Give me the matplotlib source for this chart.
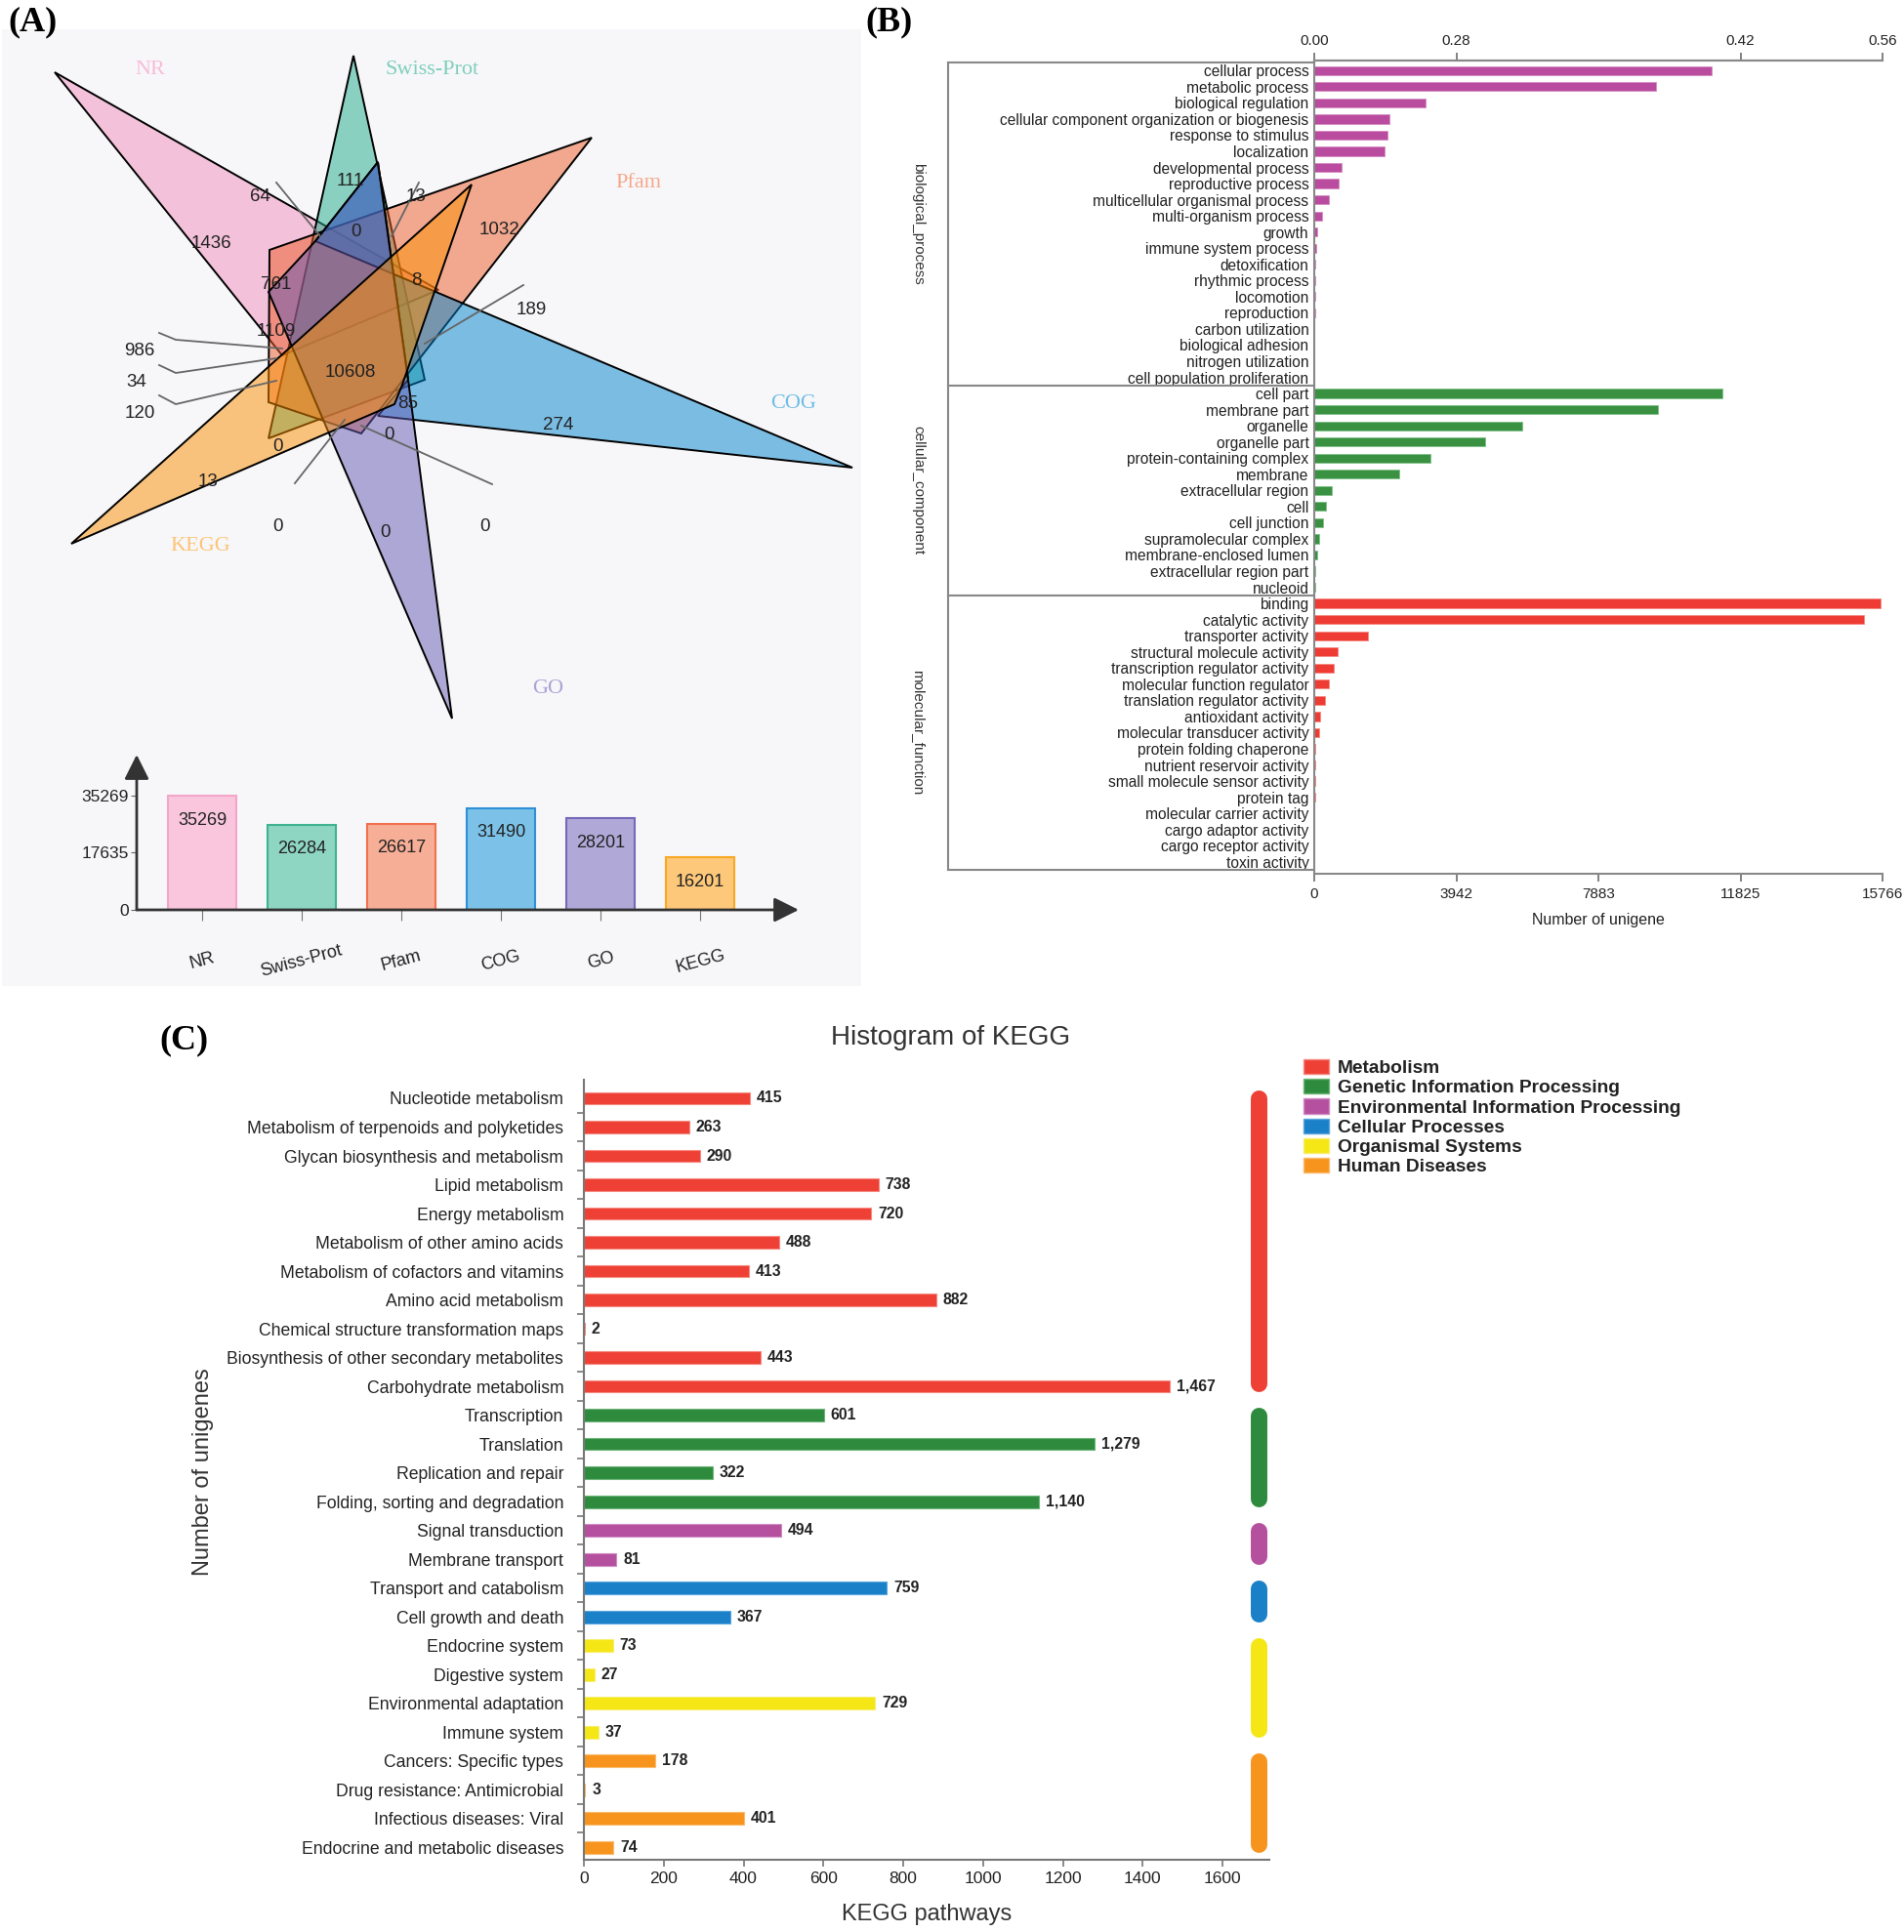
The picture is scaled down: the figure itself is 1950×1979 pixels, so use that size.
import numpy as np
import matplotlib
matplotlib.use('Agg')
import matplotlib.pyplot as plt
import matplotlib.transforms as mtransforms
from matplotlib.patches import Polygon, Rectangle, Patch
from matplotlib.colors import to_rgba

plt.rcParams['font.family'] = ['Liberation Sans', 'DejaVu Sans']
SERIF = ['Liberation Serif', 'DejaVu Serif']

# ---------------- data ----------------
venn_names = ['NR', 'Swiss-Prot', 'Pfam', 'COG', 'GO', 'KEGG']
venn_counts = [64, 111, 13, 0, 1032, 1436, 761, 8, 189, 1109, 986,
               10608, 34, 85, 120, 274, 0, 0, 13, 0, 0, 0]

db_names = ['NR', 'Swiss-Prot', 'Pfam', 'COG', 'GO', 'KEGG']
db_totals = [35269, 26284, 26617, 31490, 28201, 16201]
db_yticks = [0, 17635, 35269]

bp_terms = ['cellular process', 'metabolic process', 'biological regulation',
            'cellular component organization or biogenesis', 'response to stimulus',
            'localization', 'developmental process', 'reproductive process',
            'multicellular organismal process', 'multi-organism process', 'growth',
            'immune system process', 'detoxification', 'rhythmic process', 'locomotion',
            'reproduction', 'carbon utilization', 'biological adhesion',
            'nitrogen utilization', 'cell population proliferation']
bp_counts = [11030, 9480, 3090, 2090, 2030, 1950, 760, 665, 400, 220,
             75, 60, 30, 28, 20, 15, 10, 8, 5, 5]
cc_terms = ['cell part', 'membrane part', 'organelle', 'organelle part',
            'protein-containing complex', 'membrane', 'extracellular region', 'cell',
            'cell junction', 'supramolecular complex', 'membrane-enclosed lumen',
            'extracellular region part', 'nucleoid']
cc_counts = [11320, 9540, 5780, 4740, 3230, 2360, 490, 330, 240, 140, 90, 40, 15]
mf_terms = ['binding', 'catalytic activity', 'transporter activity',
            'structural molecule activity', 'transcription regulator activity',
            'molecular function regulator', 'translation regulator activity',
            'antioxidant activity', 'molecular transducer activity',
            'protein folding chaperone', 'nutrient reservoir activity',
            'small molecule sensor activity', 'protein tag', 'molecular carrier activity',
            'cargo adaptor activity', 'cargo receptor activity', 'toxin activity']
mf_counts = [15710, 15250, 1490, 650, 540, 410, 300, 160, 130, 30, 25, 20, 15, 10, 5, 3, 2]
go_groups = ['biological_process', 'cellular_component', 'molecular_function']
go_top_ticks = [0, 3942, 11825, 15766]
go_top_labels = ['0.00', '0.28', '0.42', '0.56']
go_bottom_ticks = [0, 3942, 7883, 11825, 15766]

kegg_pathways = ['Nucleotide metabolism', 'Metabolism of terpenoids and polyketides',
                 'Glycan biosynthesis and metabolism', 'Lipid metabolism',
                 'Energy metabolism', 'Metabolism of other amino acids',
                 'Metabolism of cofactors and vitamins', 'Amino acid metabolism',
                 'Chemical structure transformation maps',
                 'Biosynthesis of other secondary metabolites', 'Carbohydrate metabolism',
                 'Transcription', 'Translation', 'Replication and repair',
                 'Folding, sorting and degradation', 'Signal transduction',
                 'Membrane transport', 'Transport and catabolism', 'Cell growth and death',
                 'Endocrine system', 'Digestive system', 'Environmental adaptation',
                 'Immune system', 'Cancers: Specific types', 'Drug resistance: Antimicrobial',
                 'Infectious diseases: Viral', 'Endocrine and metabolic diseases']
kegg_counts = [415, 263, 290, 738, 720, 488, 413, 882, 2, 443, 1467,
               601, 1279, 322, 1140, 494, 81, 759, 367, 73, 27, 729, 37,
               178, 3, 401, 74]
kegg_classes = ['Metabolism', 'Genetic Information Processing',
                'Environmental Information Processing', 'Cellular Processes',
                'Organismal Systems', 'Human Diseases']
kegg_class_sizes = [11, 4, 2, 2, 4, 4]

# ---------------- layout helpers ----------------
W, H = 1950, 1979
fig = plt.figure(figsize=(W / 100, H / 100), dpi=100)


def frect(x0, y0, x1, y1):
    return [x0 / W, 1 - y1 / H, (x1 - x0) / W, (y1 - y0) / H]


def fpt(x, y):
    return x / W, 1 - y / H


# ---------------- panel A: venn ----------------
fig.patches.append(Rectangle(fpt(2, 1010), 880 / W, 980 / H, transform=fig.transFigure,
                             facecolor='#f7f7f9', edgecolor='none', zorder=-5))

ax_v = fig.add_axes(frect(0, 0, 880, 770))
ax_v.set_xlim(0, 880)
ax_v.set_ylim(770, 0)
ax_v.axis('off')

venn_fill = ['#f18dbb', '#1fab89', '#ed5b27', '#0083cd', '#6559b3', '#fb8f00']
venn_text = ['#f8bcd8', '#7fcfb9', '#f5a68a', '#6fbde6', '#a9a3d6', '#fdc476']
shapes = [
    [(56, 74), (449, 297), (289, 364)],
    [(362, 57), (275, 449), (435, 389)],
    [(606, 141), (276, 256), (275, 412), (370, 444)],
    [(873, 479), (323, 247), (387, 166), (418, 389), (387, 426)],
    [(463, 736), (337, 444), (275, 299), (323, 247), (387, 166), (418, 389)],
    [(73, 557), (483, 189), (412, 394), (404, 414)],
]
for poly, fc in zip(shapes, venn_fill):
    ax_v.add_patch(Polygon(poly, closed=True, facecolor=to_rgba(fc, 0.5),
                           edgecolor='black', linewidth=1.4))

name_pos = [(154, 72), (443, 72), (654, 187), (813, 414), (561, 706), (205, 559)]
for name, (x, y), c in zip(venn_names, name_pos, venn_text):
    ax_v.text(x, y, name, color=c, fontsize=16, family=SERIF, ha='center', va='center')

count_pos = [(266, 201), (359, 186), (426, 202), (364, 237), (511, 235), (216, 250),
             (283, 292), (426, 288), (544, 318), (283, 339), (143, 359), (359, 381),
             (140, 392), (418, 413), (143, 424), (572, 436), (399, 446), (285, 458),
             (213, 494), (285, 539), (394, 546), (496, 539)]
for v, (x, y) in zip(venn_counts, count_pos):
    ax_v.text(x, y, str(v), fontsize=13.5, color='#222', ha='center', va='center')

leaders = [[(283, 187), (328, 242)], [(429, 187), (401, 242)], [(536, 292), (435, 352)],
           [(163, 341), (180, 348), (289, 357)], [(163, 374), (180, 382), (283, 367)],
           [(163, 405), (180, 414), (283, 390)], [(302, 495), (353, 430)],
           [(504, 496), (370, 436)]]
for seg in leaders:
    xs, ys = zip(*seg)
    ax_v.plot(xs, ys, color='#666', lw=1.3)

# ---------------- panel A: bar chart ----------------
ax_a = fig.add_axes(frect(140, 773, 818, 932))
ax_a.patch.set_alpha(0)
bar_face = ['#f9c6dd', '#8ed5c2', '#f7ae96', '#7cc2e8', '#b0a9d8', '#fdc87a']
bar_edge = ['#f4a6c8', '#3fb28f', '#f07050', '#2f8fd8', '#7468b8', '#f9a825']
xa = np.arange(len(db_totals))
ax_a.bar(xa, db_totals, width=0.68, color=bar_face, edgecolor=bar_edge, linewidth=1.5)
ax_a.set_xlim(-0.657, 5.99)
ax_a.set_ylim(0, 47930)
for s in ax_a.spines.values():
    s.set_visible(False)
arrow = dict(arrowstyle='-|>,head_length=0.7,head_width=0.35', color='#333', lw=2,
             shrinkA=0, shrinkB=0, mutation_scale=22)
ax_a.annotate('', xy=(1, 0), xytext=(0, 0), xycoords='axes fraction', arrowprops=arrow)
ax_a.annotate('', xy=(0, 1), xytext=(0, 0), xycoords='axes fraction', arrowprops=arrow)
ax_a.set_yticks(db_yticks)
ax_a.set_yticklabels([str(t) for t in db_yticks], fontsize=12.5, color='#222')
ax_a.tick_params(axis='y', length=4, color='#666', pad=2)
ax_a.set_xticks(xa)
ax_a.set_xticklabels([])
ax_a.tick_params(axis='x', length=8, color='#777')
for i, v in enumerate(db_totals):
    ax_a.annotate(str(v), (i, v), xytext=(0, -18), textcoords='offset points',
                  ha='center', va='center', fontsize=13, color='#222')
tr_a = mtransforms.blended_transform_factory(ax_a.transData, ax_a.transAxes)
for i, n in enumerate(db_names):
    ax_a.text(i, -0.33, n, transform=tr_a, rotation=15, ha='center', va='center',
              fontsize=13, color='#222')

# ---------------- panel B: GO ----------------
go_terms = bp_terms + cc_terms + mf_terms
go_counts = bp_counts + cc_counts + mf_counts
go_sizes = [len(bp_terms), len(cc_terms), len(mf_terms)]
go_colors = ['#b94c9e', '#3a9142', '#ee3b33']
go_edges = ['#d68cc3', '#7fc088', '#f58a84']
row_col = sum([[c] * n for c, n in zip(go_colors, go_sizes)], [])
row_edge = sum([[c] * n for c, n in zip(go_edges, go_sizes)], [])

axB = fig.add_axes(frect(1346, 62, 1928, 895))
yb = np.arange(len(go_terms))
axB.barh(yb, go_counts, height=0.56, color=row_col, edgecolor=row_edge, linewidth=0.6)
axB.set_xlim(0, 15766)
axB.set_ylim(49.74, -0.621)
axB.set_yticks(yb)
axB.set_yticklabels(go_terms, fontsize=11.2, color='#222')
axB.tick_params(axis='y', length=0, pad=4)
axB.set_xticks(go_bottom_ticks)
axB.set_xticklabels([str(t) for t in go_bottom_ticks], fontsize=11, color='#222')
axB.tick_params(axis='x', length=6, width=1.3, color='#777', pad=4)
axB.spines['right'].set_visible(False)
for s in ['left', 'bottom', 'top']:
    axB.spines[s].set_color('#888')
    axB.spines[s].set_linewidth(1.5)

axB2 = axB.twiny()
axB2.set_xlim(0, 15766)
axB2.set_xticks(go_top_ticks)
axB2.set_xticklabels(go_top_labels, fontsize=11, color='#222')
axB2.tick_params(axis='x', length=6, width=1.3, color='#777', pad=3)
for s in ['left', 'bottom', 'right']:
    axB2.spines[s].set_visible(False)
axB2.spines['top'].set_color('#888')
axB2.spines['top'].set_linewidth(1.5)

trB = mtransforms.blended_transform_factory(axB.transAxes, axB.transData)
box_x0 = (971 - 1346) / 582
bounds = np.concatenate([[0], np.cumsum(go_sizes)]) - 0.5
for yv in bounds:
    axB.plot([box_x0, 0], [yv, yv], transform=trB, clip_on=False, color='#888', lw=1.5)
axB.plot([box_x0, box_x0], [bounds[0], bounds[-1]], transform=trB, clip_on=False,
         color='#888', lw=1.5)
for g, a, b in zip(go_groups, bounds[:-1], bounds[1:]):
    axB.text((940 - 1346) / 582, (a + b) / 2, g, transform=trB, rotation=-90,
             ha='center', va='center', fontsize=11, color='#333')
fig.text(*fpt(1637, 943), 'Number of unigene', ha='center', va='center',
         fontsize=11.5, color='#222')

# ---------------- panel C: KEGG ----------------
class_colors = ['#ee4035', '#2e8b3e', '#b5509f', '#1a80c8', '#f5e616', '#f7941d']
class_edges = ['#f58a82', '#6fb57a', '#d08cc4', '#5aa6de', '#f8ef70', '#fabb6e']
k_col = sum([[c] * n for c, n in zip(class_colors, kegg_class_sizes)], [])
k_edge = sum([[c] * n for c, n in zip(class_edges, kegg_class_sizes)], [])

axC = fig.add_axes(frect(598, 1106, 1300, 1905))
yk = np.arange(len(kegg_pathways))
axC.barh(yk, kegg_counts, height=0.44, color=k_col, edgecolor=k_edge, linewidth=0.8)
axC.set_xlim(0, 1717)
axC.set_ylim(26.44, -0.644)
axC.set_yticks(yk)
axC.set_yticklabels(kegg_pathways, fontsize=12.7, color='#222')
axC.set_yticks(np.arange(0.5, len(kegg_pathways) - 1), minor=True)
axC.tick_params(axis='y', which='major', length=0, pad=15)
axC.tick_params(axis='y', which='minor', length=5, width=1.2, color='#777')
axC.set_xticks(np.arange(0, 1601, 200))
axC.tick_params(axis='x', length=5, width=1.2, color='#777', labelsize=12.5,
                labelcolor='#222')
for s in ['top', 'right']:
    axC.spines[s].set_visible(False)
for s in ['left', 'bottom']:
    axC.spines[s].set_color('#777')
    axC.spines[s].set_linewidth(1.5)
for i, v in enumerate(kegg_counts):
    axC.annotate(f'{v:,}', (v, i), xytext=(5, 0), textcoords='offset points',
                 ha='left', va='center', fontsize=11.3, fontweight='bold', color='#222')

start = 0
for c, n in zip(class_colors, kegg_class_sizes):
    axC.plot([1690, 1690], [start, start + n - 1.1], color=c, lw=12.2,
             solid_capstyle='round', clip_on=False)
    start += n

handles = [Patch(facecolor=c, edgecolor=e, linewidth=1) for c, e in zip(class_colors, class_edges)]
fig.legend(handles, kegg_classes, loc='upper left', bbox_to_anchor=fpt(1335, 1085),
           frameon=False, prop={'size': 13.8, 'weight': 'bold'}, handlelength=1.35,
           handleheight=0.85, handletextpad=0.45, labelspacing=0.1, borderpad=0,
           borderaxespad=0, labelcolor='#222')

fig.text(*fpt(974, 1063), 'Histogram of KEGG', ha='center', va='center',
         fontsize=20, color='#333')
fig.text(*fpt(949, 1961), 'KEGG pathways', ha='center', va='center',
         fontsize=17, color='#333')
fig.text(*fpt(208, 1508), 'Number of unigenes', ha='center', va='center',
         rotation=90, fontsize=17, color='#333')

# ---------------- panel labels ----------------
for lab, (x, y) in zip(['(A)', '(B)', '(C)'], [(33, 23), (910, 23), (188, 1066)]):
    fig.text(*fpt(x, y), lab, ha='center', va='center', fontsize=26,
             fontweight='bold', family=SERIF)

fig.savefig('out.png', dpi=100)
